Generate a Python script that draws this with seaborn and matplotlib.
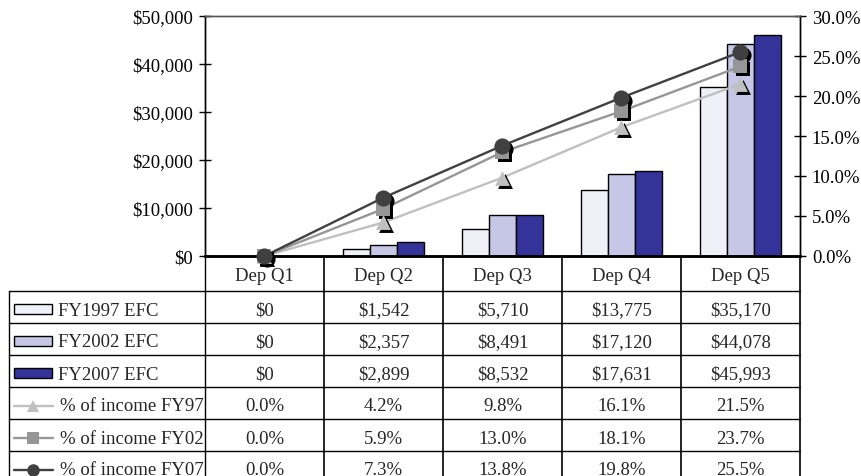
import matplotlib
matplotlib.use("Agg")
import matplotlib.pyplot as plt
from matplotlib.lines import Line2D
from matplotlib.patches import Rectangle
from matplotlib.transforms import offset_copy
import numpy as np
import pandas as pd
import seaborn as sns

quintiles = ["Dep Q1", "Dep Q2", "Dep Q3", "Dep Q4", "Dep Q5"]
efc_fy1997 = [0, 1542, 5710, 13775, 35170]
efc_fy2002 = [0, 2357, 8491, 17120, 44078]
efc_fy2007 = [0, 2899, 8532, 17631, 45993]
pct_fy97 = [0.0, 4.2, 9.8, 16.1, 21.5]
pct_fy02 = [0.0, 5.9, 13.0, 18.1, 23.7]
pct_fy07 = [0.0, 7.3, 13.8, 19.8, 25.5]

bar_labels = ["FY1997 EFC", "FY2002 EFC", "FY2007 EFC"]
line_labels = ["% of income FY97", "% of income FY02", "% of income FY07"]
bar_colors = ["#f0f0f8", "#c6c6e6", "#333399"]
line_colors = ["#c0c0c0", "#969696", "#404040"]
line_markers = ["^", "s", "o"]
marker_sizes = [115, 95, 135]

sns.set_theme(style="white")
plt.rcParams["font.family"] = ["Liberation Serif", "DejaVu Serif"]
FS = 13.5

bars = pd.DataFrame({
    "quintile": quintiles * 3,
    "efc": efc_fy1997 + efc_fy2002 + efc_fy2007,
    "series": np.repeat(bar_labels, len(quintiles)),
})
lines = pd.DataFrame({
    "pos": list(range(len(quintiles))) * 3,
    "pct": pct_fy97 + pct_fy02 + pct_fy07,
    "series": np.repeat(line_labels, len(quintiles)),
})

W, H = 862, 477
fig = plt.figure(figsize=(W / 100, H / 100), dpi=100)
L, R, T, B = 205, 800, 17, 257
ax = fig.add_axes([L / W, 1 - B / H, (R - L) / W, (B - T) / H])

sns.barplot(data=bars, x="quintile", y="efc", hue="series", palette=bar_colors,
            width=0.675, gap=0, edgecolor="black", linewidth=1, legend=False,
            saturation=1, ax=ax)
ax.set_ylim(0, 50000)
ax.set_xlim(-0.5, len(quintiles) - 0.5)
ax.set_yticks(range(0, 50001, 10000))
ax.set_yticklabels([f"${v:,.0f}" for v in range(0, 50001, 10000)], fontsize=FS)
ax.set_xticks([])
ax.set_xlabel("")
ax.set_ylabel("")
ax.tick_params(axis="y", direction="inout", length=9, width=1, color="black",
               left=True, pad=4, labelcolor="black")

ax2 = ax.twinx()
sns.lineplot(data=lines, x="pos", y="pct", hue="series", palette=line_colors,
             linewidth=1.7, legend=False, ax=ax2)
shadow = offset_copy(ax2.transData, fig=fig, x=3, y=-3, units="dots")
for lab, col, mk, sz in zip(line_labels, line_colors, line_markers, marker_sizes):
    sub = lines[lines["series"] == lab]
    sns.scatterplot(data=sub, x="pos", y="pct", marker=mk, s=sz, color="black",
                    linewidth=0, transform=shadow, ax=ax2, zorder=3, clip_on=False)
    sns.scatterplot(data=sub, x="pos", y="pct", marker=mk, s=sz, color=col,
                    linewidth=0, ax=ax2, zorder=4, clip_on=False)
ax2.set_ylim(0, 30)
ax2.set_xlim(-0.5, len(quintiles) - 0.5)
ax2.set_yticks(np.arange(0, 30.1, 5))
ax2.set_yticklabels([f"{v:.1f}%" for v in np.arange(0, 30.1, 5)], fontsize=FS)
ax2.set_xlabel("")
ax2.set_ylabel("")
ax2.tick_params(axis="y", direction="inout", length=9, width=1, color="black",
                right=True, pad=4, labelcolor="black")

for a in (ax, ax2):
    for s in a.spines.values():
        s.set_color("black")
        s.set_linewidth(1)
    a.spines["top"].set_color("#555555")
    a.spines["bottom"].set_linewidth(1.8)
    a.grid(False)


def fx(x):
    return x / W


def fy(y):
    return 1 - y / H


def hline(y, x0, x1, lw=1):
    fig.add_artist(Line2D([fx(x0), fx(x1)], [fy(y), fy(y)], color="black", lw=lw))


def vline(x, y0, y1, lw=1):
    fig.add_artist(Line2D([fx(x), fx(x)], [fy(y0), fy(y1)], color="black", lw=lw))


# data table under the chart
col_w = (R - L) / len(quintiles)
rows_y = [292, 324, 356, 388, 420, 452, 484]
table_left = 9
for i in range(len(quintiles) + 1):
    vline(L + i * col_w, B, H, lw=1.2 if i else 1)
vline(table_left, rows_y[0], H)
for y in rows_y[:-1]:
    hline(y, table_left, R)

for i, q in enumerate(quintiles):
    fig.text(fx(L + (i + 0.5) * col_w), fy((B + rows_y[0]) / 2 + 2), q,
             ha="center", va="center", fontsize=FS)

row_values = [
    [f"${v:,.0f}" for v in efc_fy1997],
    [f"${v:,.0f}" for v in efc_fy2002],
    [f"${v:,.0f}" for v in efc_fy2007],
    [f"{v:.1f}%" for v in pct_fy97],
    [f"{v:.1f}%" for v in pct_fy02],
    [f"{v:.1f}%" for v in pct_fy07],
]
for r, vals in enumerate(row_values):
    cy = (rows_y[r] + rows_y[r + 1]) / 2 + 3
    for i, v in enumerate(vals):
        fig.text(fx(L + (i + 0.5) * col_w), fy(cy), v, ha="center", va="center",
                 fontsize=FS)

# legend keys inside the table
for r, (lab, col) in enumerate(zip(bar_labels, bar_colors)):
    cy = (rows_y[r] + rows_y[r + 1]) / 2 + 3
    fig.add_artist(Rectangle((fx(14), fy(cy + 4)), fx(52) - fx(14), 10 / H,
                             facecolor=col, edgecolor="black", lw=1))
    fig.text(fx(58), fy(cy), lab, ha="left", va="center", fontsize=FS)
for k, (lab, col, mk) in enumerate(zip(line_labels, line_colors, line_markers)):
    r = k + 3
    cy = (rows_y[r] + rows_y[r + 1]) / 2 + 3
    fig.add_artist(Line2D([fx(14), fx(33), fx(53)], [fy(cy)] * 3, color=col, lw=1.7,
                          marker=mk, markevery=[1], markersize=9,
                          markerfacecolor=col, markeredgewidth=0))
    fig.text(fx(60), fy(cy), lab, ha="left", va="center", fontsize=FS)

fig.savefig("out.png", dpi=100)
